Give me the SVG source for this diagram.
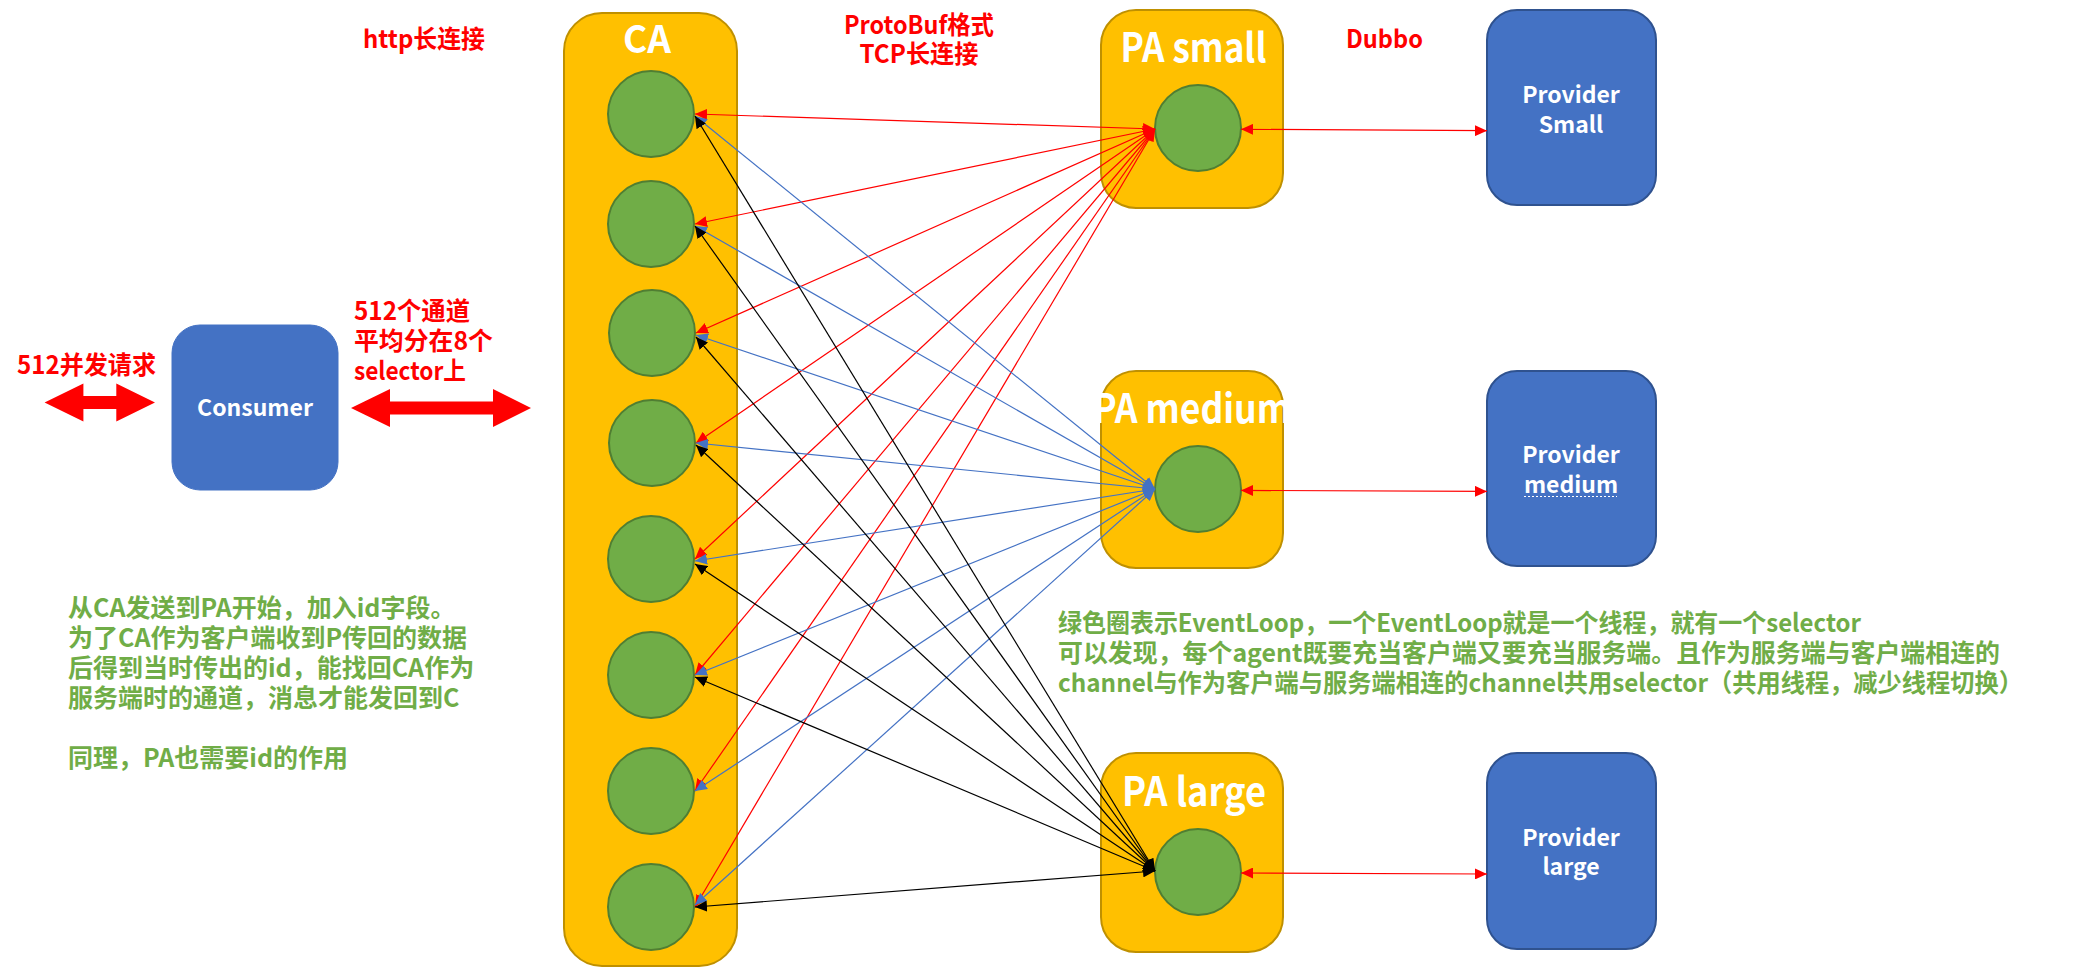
<svg xmlns="http://www.w3.org/2000/svg" width="2080" height="968" viewBox="0 0 2080 968">
<style>
.by{fill:#FFC000;stroke:#BF9000;stroke-width:2}
.bb{fill:#4472C4;stroke:#2F528F;stroke-width:2}
.dot{fill:#70AD47;stroke:#507E32;stroke-width:2}
.t{font-family:"Noto Sans CJK SC","Noto Sans",sans-serif;font-weight:700}
.ttl{font-family:"Noto Sans CJK SC","Noto Sans",sans-serif;font-weight:700;fill:#FFFFFF}
.red{fill:#FF0000}
.grn{fill:#70AD47}
.wht{fill:#FFFFFF}
.lr{stroke:#FF0000;stroke-width:1.2;fill:none}
.lb{stroke:#4472C4;stroke-width:1.2;fill:none}
.lk{stroke:#000000;stroke-width:1.2;fill:none}
</style>
<defs>
<marker id="ar" viewBox="0 0 12 11" refX="12" refY="5.5" markerWidth="12" markerHeight="11" markerUnits="userSpaceOnUse" orient="auto-start-reverse"><path d="M0,0 L12,5.5 L0,11 z" fill="#FF0000"/></marker>
<marker id="ab" viewBox="0 0 12 11" refX="12" refY="5.5" markerWidth="12" markerHeight="11" markerUnits="userSpaceOnUse" orient="auto-start-reverse"><path d="M0,0 L12,5.5 L0,11 z" fill="#4472C4"/></marker>
<marker id="ak" viewBox="0 0 12 11" refX="12" refY="5.5" markerWidth="12" markerHeight="11" markerUnits="userSpaceOnUse" orient="auto-start-reverse"><path d="M0,0 L12,5.5 L0,11 z" fill="#000000"/></marker>
</defs>
<rect width="2080" height="968" fill="#FFFFFF"/>

<g id="label-http"><text class="t red" x="363" y="48" font-size="25" textLength="122" lengthAdjust="spacingAndGlyphs">http长连接</text></g>
<g id="label-protobuf"><text class="t red" x="919" y="34" font-size="25" text-anchor="middle" textLength="150" lengthAdjust="spacingAndGlyphs">ProtoBuf格式</text><text class="t red" x="919" y="63" font-size="25" text-anchor="middle" textLength="119" lengthAdjust="spacingAndGlyphs">TCP长连接</text></g>
<g id="label-dubbo"><text class="t red" x="1346" y="48" font-size="25" textLength="77" lengthAdjust="spacingAndGlyphs">Dubbo</text></g>
<g id="label-512req"><text class="t red" x="17" y="374" font-size="25" textLength="139" lengthAdjust="spacingAndGlyphs">512并发请求</text></g>
<g id="label-channels"><text class="t red" x="354" y="320" font-size="25" textLength="116" lengthAdjust="spacingAndGlyphs">512个通道</text><text class="t red" x="354" y="350" font-size="25" textLength="139" lengthAdjust="spacingAndGlyphs">平均分在8个</text><text class="t red" x="354" y="380" font-size="25" textLength="112" lengthAdjust="spacingAndGlyphs">selector上</text></g>

<g id="arrow-left"><polygon class="red" points="44.6,402.5 83.4,383.5 83.4,396 116.3,396 116.3,383.5 155,402.5 116.3,421.5 116.3,409 83.4,409 83.4,421.5"/></g>
<g id="arrow-right"><polygon class="red" points="351,408 390,389 390,401.5 493,401.5 493,389 531,408 493,427 493,414.5 390,414.5 390,427"/></g>

<g id="consumer"><rect x="172" y="325" width="166" height="165" rx="28" fill="#4472C4" stroke="#4472C4" stroke-width="1"/><text class="t wht" x="255" y="416" font-size="23" text-anchor="middle">Consumer</text></g>

<g id="ca"><rect class="by" x="564" y="13" width="173" height="953" rx="38"/><text class="ttl" x="647" y="53" font-size="38" text-anchor="middle" textLength="48" lengthAdjust="spacingAndGlyphs">CA</text>
<circle class="dot" cx="651" cy="114" r="43"/>
<circle class="dot" cx="651" cy="224" r="43"/>
<circle class="dot" cx="652" cy="333" r="43"/>
<circle class="dot" cx="652" cy="443" r="43"/>
<circle class="dot" cx="651" cy="559" r="43"/>
<circle class="dot" cx="651" cy="675" r="43"/>
<circle class="dot" cx="651" cy="791" r="43"/>
<circle class="dot" cx="651" cy="907" r="43"/>
</g>

<g id="pa-small"><rect class="by" x="1101" y="10" width="182" height="198" rx="35"/><text class="ttl" x="1193.5" y="62" font-size="40" text-anchor="middle" textLength="146" lengthAdjust="spacingAndGlyphs">PA small</text><circle class="dot" cx="1198" cy="128" r="43"/></g>
<g id="pa-medium"><rect class="by" x="1101" y="371" width="182" height="197" rx="35"/><text class="ttl" x="1192" y="423" font-size="40" text-anchor="middle" textLength="198" lengthAdjust="spacingAndGlyphs">PA medium</text><circle class="dot" cx="1198" cy="489" r="43"/></g>
<g id="pa-large"><rect class="by" x="1101" y="753" width="182" height="199" rx="35"/><text class="ttl" x="1194" y="806" font-size="40" text-anchor="middle" textLength="144" lengthAdjust="spacingAndGlyphs">PA large</text><circle class="dot" cx="1198" cy="872" r="43"/></g>

<g id="provider-small"><rect class="bb" x="1487" y="10" width="169" height="195" rx="30"/><text class="t wht" x="1571" y="103" font-size="23" text-anchor="middle">Provider</text><text class="t wht" x="1571" y="133" font-size="23" text-anchor="middle">Small</text></g>
<g id="provider-medium"><rect class="bb" x="1487" y="371" width="169" height="195" rx="30"/><text class="t wht" x="1571" y="463" font-size="23" text-anchor="middle">Provider</text><text class="t wht" x="1571" y="493" font-size="23" text-anchor="middle">medium</text><line x1="1524" y1="496.5" x2="1617" y2="496.5" stroke="#FFFFFF" stroke-width="1" stroke-dasharray="2,2"/></g>
<g id="provider-large"><rect class="bb" x="1487" y="753" width="169" height="196" rx="30"/><text class="t wht" x="1571" y="846" font-size="23" text-anchor="middle">Provider</text><text class="t wht" x="1571" y="875" font-size="23" text-anchor="middle">large</text></g>

<g id="note-left"><text class="t grn" font-size="25"><tspan x="68" y="617">从CA发送到PA开始，加入id字段。</tspan><tspan x="68" y="647">为了CA作为客户端收到P传回的数据</tspan><tspan x="68" y="677">后得到当时传出的id，能找回CA作为</tspan><tspan x="68" y="707">服务端时的通道，消息才能发回到C</tspan><tspan x="68" y="767">同理，PA也需要id的作用</tspan></text></g>
<g id="note-right"><text class="t grn" font-size="25" x="1058" y="632" textLength="803" lengthAdjust="spacingAndGlyphs">绿色圈表示EventLoop，一个EventLoop就是一个线程，就有一个selector</text><text class="t grn" font-size="25" x="1058" y="662" textLength="942" lengthAdjust="spacingAndGlyphs">可以发现，每个agent既要充当客户端又要充当服务端。且作为服务端与客户端相连的</text><text class="t grn" font-size="25" x="1058" y="692" textLength="965" lengthAdjust="spacingAndGlyphs">channel与作为客户端与服务端相连的channel共用selector（共用线程，减少线程切换）</text></g>

<g id="connectors">
<line class="lr" x1="1155" y1="129" x2="695" y2="114" marker-start="url(#ar)" marker-end="url(#ar)"/>
<line class="lr" x1="1155" y1="129" x2="695" y2="224" marker-start="url(#ar)" marker-end="url(#ar)"/>
<line class="lr" x1="1155" y1="129" x2="696" y2="333" marker-start="url(#ar)" marker-end="url(#ar)"/>
<line class="lr" x1="1155" y1="129" x2="696" y2="443" marker-start="url(#ar)" marker-end="url(#ar)"/>
<line class="lr" x1="1155" y1="129" x2="695" y2="559" marker-start="url(#ar)" marker-end="url(#ar)"/>
<line class="lr" x1="1155" y1="129" x2="695" y2="675" marker-start="url(#ar)" marker-end="url(#ar)"/>
<line class="lr" x1="1155" y1="129" x2="695" y2="791" marker-start="url(#ar)" marker-end="url(#ar)"/>
<line class="lr" x1="1155" y1="129" x2="695" y2="907" marker-start="url(#ar)" marker-end="url(#ar)"/>
<line class="lb" x1="1155" y1="489" x2="695" y2="116" marker-start="url(#ab)" marker-end="url(#ab)"/>
<line class="lb" x1="1155" y1="489" x2="695" y2="226" marker-start="url(#ab)" marker-end="url(#ab)"/>
<line class="lb" x1="1155" y1="489" x2="696" y2="335" marker-start="url(#ab)" marker-end="url(#ab)"/>
<line class="lb" x1="1155" y1="489" x2="696" y2="443" marker-start="url(#ab)" marker-end="url(#ab)"/>
<line class="lb" x1="1155" y1="489" x2="695" y2="561" marker-start="url(#ab)" marker-end="url(#ab)"/>
<line class="lb" x1="1155" y1="489" x2="695" y2="675" marker-start="url(#ab)" marker-end="url(#ab)"/>
<line class="lb" x1="1155" y1="489" x2="695" y2="791" marker-start="url(#ab)" marker-end="url(#ab)"/>
<line class="lb" x1="1155" y1="489" x2="695" y2="905" marker-start="url(#ab)" marker-end="url(#ab)"/>
<line class="lk" x1="1155" y1="871" x2="695" y2="116" marker-start="url(#ak)" marker-end="url(#ak)"/>
<line class="lk" x1="1155" y1="871" x2="695" y2="226" marker-start="url(#ak)" marker-end="url(#ak)"/>
<line class="lk" x1="1155" y1="871" x2="696" y2="337" marker-start="url(#ak)" marker-end="url(#ak)"/>
<line class="lk" x1="1155" y1="871" x2="696" y2="445" marker-start="url(#ak)" marker-end="url(#ak)"/>
<line class="lk" x1="1155" y1="871" x2="695" y2="564" marker-start="url(#ak)" marker-end="url(#ak)"/>
<line class="lk" x1="1155" y1="871" x2="695" y2="677" marker-start="url(#ak)" marker-end="url(#ak)"/>
<line class="lk" x1="1155" y1="871" x2="695" y2="907" marker-start="url(#ak)" marker-end="url(#ak)"/>
<line class="lr" x1="1241" y1="129.3" x2="1487" y2="130.7" marker-start="url(#ar)" marker-end="url(#ar)"/>
<line class="lr" x1="1241" y1="490.4" x2="1487" y2="491.4" marker-start="url(#ar)" marker-end="url(#ar)"/>
<line class="lr" x1="1241" y1="873" x2="1487" y2="874" marker-start="url(#ar)" marker-end="url(#ar)"/>
</g>
</svg>
